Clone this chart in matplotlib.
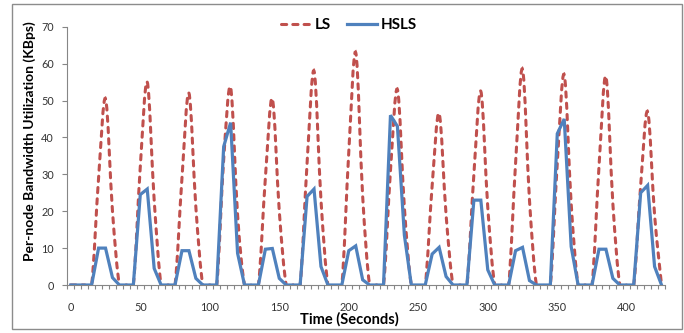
import matplotlib
matplotlib.use("Agg")
import matplotlib.pyplot as plt
from matplotlib.path import Path
from matplotlib.patches import PathPatch, Rectangle
from matplotlib.lines import Line2D
import numpy as np

plt.rcParams['font.family'] = ['Lato', 'DejaVu Sans']

# time axis categories (seconds)
time_s = list(range(0, 430, 5))
xtick_labels = [0, 50, 100, 150, 200, 250, 300, 350, 400]

# per-node bandwidth utilization (KBps)
ls_vals = [0, 0, 0,
           0, 29, 50.5, 20, 0, 0,
           0, 32, 55, 23, 0, 0,
           0, 29, 52, 21, 0, 0,
           0, 34, 53.5, 19, 0, 0,
           0, 29, 50.5, 20, 0, 0,
           0, 33, 58, 23, 0, 0,
           0, 36, 63, 24, 0, 0,
           0, 31, 53, 21, 0, 0,
           0, 27, 46.5, 19, 0, 0,
           0, 30, 52.5, 21, 0, 0,
           0, 33, 58.5, 23, 0, 0,
           0, 33, 57, 22, 0, 0,
           0, 32, 56.5, 22, 0, 0,
           0, 27, 47, 19, 0]

hsls_vals = [0, 0, 0,
             0, 10, 10, 2, 0, 0,
             0, 24.5, 26, 4.5, 0, 0,
             0, 9.3, 9.3, 1.8, 0, 0,
             0, 37.5, 44, 8.6, 0, 0,
             0, 9.7, 9.9, 1.8, 0, 0,
             0, 24, 26, 5, 0, 0,
             0, 9.3, 10.6, 1.4, 0, 0,
             0, 46, 43, 13.5, 0, 0,
             0, 8.4, 10.2, 2.3, 0, 0,
             0, 23, 23, 4.1, 0, 0,
             0, 9.3, 10.2, 1.2, 0, 0,
             0, 41, 45, 10.4, 0, 0,
             0, 9.7, 9.7, 1.8, 0, 0,
             0, 25, 27, 5, 0]

red = '#C0504D'
blue = '#4F81BD'
gray = '#868686'


def smooth_path(x, y):
    # excel style smoothed line (bezier through every point)
    x = np.asarray(x, float)
    y = np.asarray(y, float)
    n = len(x)
    verts = [(x[0], y[0])]
    codes = [Path.MOVETO]
    for i in range(n - 1):
        x0, y0 = (x[i - 1], y[i - 1]) if i > 0 else (x[i], y[i])
        x3, y3 = (x[i + 2], y[i + 2]) if i + 2 < n else (x[i + 1], y[i + 1])
        c1 = (x[i] + (x[i + 1] - x0) / 6, y[i] + (y[i + 1] - y0) / 6)
        c2 = (x[i + 1] - (x3 - x[i]) / 6, y[i + 1] - (y3 - y[i]) / 6)
        verts += [c1, c2, (x[i + 1], y[i + 1])]
        codes += [Path.CURVE4] * 3
    return Path(verts, codes)


fig = plt.figure(figsize=(6.84, 3.33), dpi=100)
fig.patches.append(Rectangle((12 / 684, 4 / 333), 670 / 684, 325 / 333,
                             transform=fig.transFigure, fill=False,
                             edgecolor='#8c8c8c', lw=1.0))

ax = fig.add_axes([67.3 / 684, 48 / 333, (665 - 67.3) / 684, 258.3 / 333])

ls_dash = (0, (1.7, 2.0))
ls_patch = PathPatch(smooth_path(time_s, ls_vals), fill=False, edgecolor=red,
                     lw=2.2, linestyle=ls_dash, capstyle='round', zorder=2)
ax.add_patch(ls_patch)
ax.plot(time_s, hsls_vals, color=blue, lw=2.3, solid_joinstyle='miter', zorder=3)

ax.set_xlim(-2.5, 427.5)
ax.set_ylim(0, 70)

for s in ['top', 'right']:
    ax.spines[s].set_visible(False)
for s in ['left', 'bottom']:
    ax.spines[s].set_color(gray)
    ax.spines[s].set_linewidth(0.8)

ax.set_yticks(range(0, 71, 10))
ax.tick_params(axis='y', length=3.5, width=0.8, color=gray, pad=6,
               labelsize=7.8, labelcolor='#333333')
ax.set_xticks(xtick_labels)
ax.set_xticklabels([str(v) for v in xtick_labels])
ax.set_xticks(np.arange(-2.5, 430, 5), minor=True)
ax.tick_params(axis='x', which='major', length=0, pad=12,
               labelsize=7.8, labelcolor='#333333')
ax.tick_params(axis='x', which='minor', length=3, width=0.8, color=gray)

fig.text(30 / 684, 1 - 141.5 / 333, 'Per-node Bandwidth Utilization (KBps)',
         rotation=90, ha='center', va='center', fontsize=10, fontweight='bold')
fig.text(349 / 684, 1 - 319 / 333, 'Time (Seconds)', ha='center', va='center',
         fontsize=10.5, fontweight='bold')

handles = [Line2D([], [], color=red, lw=2.2, linestyle=ls_dash, dash_capstyle='round'),
           Line2D([], [], color=blue, lw=2.3)]
fig.legend(handles, ['LS', 'HSLS'], loc='center', bbox_to_anchor=(349 / 684, 1 - 25 / 333),
           ncol=2, frameon=False, handlelength=2.0, handletextpad=0.25,
           columnspacing=1.0, prop={'weight': 'bold', 'size': 11})

fig.savefig('out.png', dpi=100)
